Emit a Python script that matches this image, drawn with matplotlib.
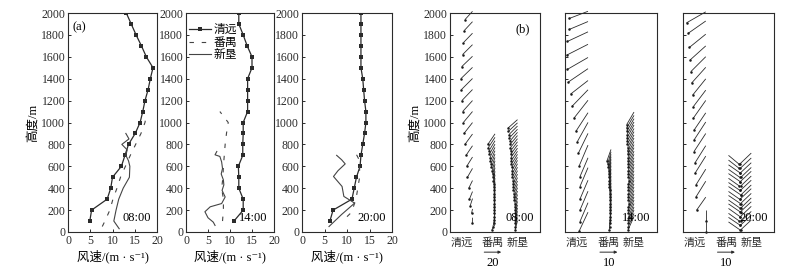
import numpy as np
import matplotlib
matplotlib.use('Agg')
import matplotlib.pyplot as plt
from matplotlib.collections import LineCollection
from matplotlib.transforms import blended_transform_factory

plt.rcParams['font.family'] = ['Liberation Serif', 'Noto Sans CJK SC', 'DejaVu Serif']
plt.rcParams['font.size'] = 8.5
plt.rcParams['axes.unicode_minus'] = False

stations = ['清远', '番禺', '新垦']
times = ['08:00', '14:00', '20:00']

# ---- (a) wind speed profiles (m/s) ----
qy_h = list(range(100, 2001, 100))
qy08 = [4.9, 5.3, 8.8, 9.6, 10.0, 12.0, 12.8, 13.6, 15.1, 16.2, 16.8, 17.3, 18.0, 18.5, 19.1, 17.6, 16.5, 15.3, 14.2, 13.1]
qy14 = [10.9, 13.0, 13.0, 12.0, 12.0, 11.9, 12.9, 12.9, 13.0, 13.0, 14.0, 14.0, 14.0, 14.0, 15.0, 15.0, 13.9, 13.0, 12.0, 12.0]
qy20 = [6.2, 6.9, 11.1, 11.6, 12.1, 12.9, 13.1, 13.5, 13.9, 14.2, 14.2, 13.9, 13.7, 13.5, 13.1, 13.1, 13.1, 13.1, 13.1, 13.1]

py08_h = [50, 100, 200, 300, 400, 500, 600, 700, 800, 900, 1000, 1050]
py08 = [7.7, 8.3, 9.4, 10.1, 11.0, 11.8, 12.9, 14.0, 15.2, 16.4, 17.3, 17.5]
py14_h = [100, 200, 300, 400, 500, 600, 700, 800, 900, 1000, 1100]
py14 = [8.3, 8.5, 8.5, 8.1, 8.4, 8.5, 8.7, 8.9, 9.2, 9.6, 7.7]
py20_h = [140, 180, 300, 400, 500, 600, 650, 700, 740]
py20 = [10.0, 11.0, 12.0, 12.4, 12.8, 12.8, 12.8, 12.2, 11.5]

xk08_h = [30, 100, 200, 300, 400, 500, 600, 650, 700, 750, 800, 850, 900]
xk08 = [11.5, 10.3, 10.8, 11.4, 12.4, 13.8, 13.9, 13.6, 13.0, 13.3, 12.1, 13.7, 13.0]
xk14_h = [60, 90, 130, 185, 230, 260, 320, 380, 430, 475, 530, 580, 640, 690, 705, 735]
xk14 = [6.6, 6.2, 5.0, 4.3, 5.5, 8.1, 8.9, 8.2, 8.6, 8.5, 8.0, 8.3, 8.1, 7.7, 6.6, 7.0]
xk20_h = [50, 160, 264, 325, 416, 507, 560, 622, 660, 700]
xk20 = [6.0, 8.8, 11.7, 9.3, 8.9, 7.0, 8.0, 9.6, 8.8, 7.7]

# ---- (b) wind vectors: u, v components (m/s) ----
b08_qy_h = [80, 170, 240, 300, 400, 500, 600, 700, 800, 900, 1000, 1100, 1200, 1300, 1400, 1510, 1620, 1730, 1840, 1940]
b08_qy_u = [0.2, 1.1, 2.7, 3.6, 4.4, 6.0, 6.8, 7.6, 8.9, 10.0, 10.8, 11.6, 12.5, 13.1, 13.7, 12.7, 11.7, 10.6, 9.7, 8.8]
b08_qy_v = [6.5, 5.2, 8.4, 8.9, 9.0, 10.4, 10.9, 11.3, 12.2, 12.8, 12.9, 12.9, 13.0, 13.1, 13.3, 12.2, 11.7, 11.0, 10.4, 9.7]
b08_py_h = list(range(20, 801, 30))
b08_py_u = [3.7, 2.6, 1.6, 1.0, 0.9, 0.9, 0.9, 1.0, 1.0, 1.0, 1.1, 1.1, 1.1, 1.3, 1.5,
            1.9, 2.4, 2.9, 3.5, 4.2, 4.8, 5.3, 6.0, 6.6, 7.2, 7.9, 8.4]
b08_py_v = [6.4, 7.0, 7.6, 7.9, 8.3, 8.7, 9.0, 9.2, 9.5, 9.8, 10.0, 10.2, 10.3, 10.5, 10.7,
            10.9, 11.2, 11.4, 11.6, 11.7, 11.8, 11.9, 11.9, 11.9, 12.0, 12.2, 12.4]
b08_xk_h = list(range(20, 951, 30))
b08_xk_u = [2.7, 2.7, 2.7, 2.7, 2.7, 2.7, 2.9, 3.1, 3.4, 3.8, 4.2, 4.5, 4.8, 5.1, 5.4, 5.7,
            6.0, 6.3, 6.6, 6.9, 7.2, 7.5, 7.8, 8.0, 8.2, 8.4, 8.6, 9.0, 9.5, 10.0, 10.6, 11.0]
b08_xk_v = [10.7, 10.6, 10.4, 10.3, 10.2, 10.1, 10.2, 10.4, 10.6, 10.8, 10.9, 11.0, 11.1, 11.2, 11.4, 11.6,
            11.8, 12.0, 12.1, 11.8, 11.5, 11.2, 11.0, 10.9, 10.8, 10.6, 10.4, 10.3, 10.1, 10.0, 9.9, 9.8]

b14_qy_h = [10, 95, 200, 300, 415, 505, 605, 720, 825, 920, 1040, 1150, 1260, 1370, 1485, 1615, 1740, 1850, 1950]
b14_qy_u = [5.0, 4.6, 4.6, 4.6, 4.6, 4.6, 5.0, 5.5, 6.1, 6.9, 8.0, 9.0, 9.9, 11.2, 11.8, 12.2, 11.8, 10.7, 10.7]
b14_qy_v = [10.7, 10.8, 10.8, 10.8, 10.8, 10.8, 11.8, 11.3, 11.0, 10.6, 10.2, 9.3, 7.7, 7.6, 6.8, 6.2, 5.5, 4.5, 4.1]
b14_py_h = list(range(20, 651, 30))
b14_py_u = [1.0, 0.8, 0.6, 0.5, 0.5, 0.5, 0.5, 0.5, 0.5, 0.5, 0.6,
            0.7, 0.8, 0.9, 1.0, 1.0, 1.1, 1.2, 1.4, 1.6, 1.9, 2.3]
b14_py_v = [7.5, 7.8, 8.0, 8.2, 8.3, 8.3, 8.3, 8.2, 8.1, 8.0, 8.0,
            8.1, 8.2, 8.3, 8.4, 8.5, 8.5, 8.4, 8.0, 7.5, 7.0, 6.5]
b14_xk_h = list(range(20, 981, 30))
b14_xk_u = [3.4, 3.3, 3.2, 3.2, 3.1, 3.2, 3.3, 3.2, 3.1, 3.2, 3.3, 3.2, 3.2, 3.3, 3.2, 3.1, 3.2,
            3.3, 3.4, 3.3, 3.4, 3.5, 3.5, 3.6, 3.7, 3.7, 3.8, 3.9, 4.0, 4.0, 4.1, 4.2, 4.2]
b14_xk_v = [7.6, 7.5, 7.6, 7.4, 7.5, 7.6, 7.5, 7.4, 7.5, 7.6, 7.5, 7.6, 7.5, 7.4, 7.5, 7.6, 7.5,
            7.5, 7.4, 7.5, 7.4, 7.5, 7.4, 7.3, 7.4, 7.3, 7.3, 7.2, 7.3, 7.2, 7.2, 7.2, 7.2]

b20_qy_h = [0, 100, 200, 320, 430, 535, 630, 735, 840, 930, 1040, 1145, 1250, 1360, 1465, 1570, 1685, 1815, 1910]
b20_qy_u = [0.0, 0.0, 5.2, 5.6, 5.6, 6.2, 6.2, 6.7, 6.7, 6.7, 7.1, 7.1, 7.5, 8.1, 8.5, 9.0, 9.4, 10.0, 11.0]
b20_qy_v = [6.0, 6.2, 7.4, 9.0, 9.0, 9.9, 9.9, 10.3, 10.3, 9.9, 10.1, 9.4, 9.3, 9.0, 8.5, 8.1, 7.6, 7.0, 6.3]
b20_py_h = list(range(20, 621, 40))
b20_py_u = [-6.5, -6.8, -6.2, -6.6, -7.0, -6.4, -6.8, -6.3, -6.9, -6.5, -6.2, -6.7, -6.4, -6.6, -6.2, -6.0]
b20_py_v = [4.5, 4.6, 4.4, 4.7, 4.8, 4.5, 4.6, 4.4, 4.7, 4.5, 4.4, 4.6, 4.5, 4.6, 4.8, 5.0]
b20_xk_h = list(range(20, 621, 40))
b20_xk_u = [6.0, 6.3, 5.8, 6.2, 6.5, 5.9, 6.1, 6.4, 5.8, 6.2, 6.0, 6.3, 5.9, 6.2, 6.4, 6.6]
b20_xk_v = [5.6, 5.8, 5.5, 5.9, 6.0, 5.7, 5.8, 6.0, 5.6, 5.8, 5.7, 5.9, 5.6, 5.8, 6.0, 6.3]

ref_speed = [20, 10, 10]        # reference arrow per panel (m/s)
px_per_ms = [0.85, 1.75, 1.75]  # drawn length of 1 m/s in pixels

a_qy = [qy08, qy14, qy20]
a_py = [(py08_h, py08), (py14_h, py14), (py20_h, py20)]
a_xk = [(xk08_h, xk08), (xk14_h, xk14), (xk20_h, xk20)]
b_sets = [
    [(b08_qy_h, b08_qy_u, b08_qy_v), (b08_py_h, b08_py_u, b08_py_v), (b08_xk_h, b08_xk_u, b08_xk_v)],
    [(b14_qy_h, b14_qy_u, b14_qy_v), (b14_py_h, b14_py_u, b14_py_v), (b14_xk_h, b14_xk_u, b14_xk_v)],
    [(b20_qy_h, b20_qy_u, b20_qy_v), (b20_py_h, b20_py_u, b20_py_v), (b20_xk_h, b20_xk_u, b20_xk_v)],
]

W, H = 788, 279
fig = plt.figure(figsize=(W / 100, H / 100), dpi=100)
ink = '#2b2b2b'


def box(l, r, top=13, bottom=232):
    return [l / W, 1 - bottom / H, (r - l) / W, (bottom - top) / H]


def style(ax):
    for s in ax.spines.values():
        s.set_linewidth(0.8)
        s.set_color(ink)
    ax.tick_params(direction='in', length=2.5, width=0.7, colors=ink, pad=2)


a_left = [(68, 157), (186, 274), (302, 392)]
for i, (l, r) in enumerate(a_left):
    ax = fig.add_axes(box(l, r))
    style(ax)
    ax.plot(a_qy[i], qy_h, '-s', color=ink, lw=0.9, ms=2.6, mew=0, label=stations[0])
    ax.plot(a_py[i][1], a_py[i][0], color='#444444', lw=0.8, dashes=(4, 7), label=stations[1])
    ax.plot(a_xk[i][1], a_xk[i][0], color='#444444', lw=0.8, label=stations[2])
    ax.set_xlim(0, 20)
    ax.set_ylim(0, 2000)
    ax.set_xticks([0, 5, 10, 15, 20])
    ax.set_yticks(range(0, 2001, 200))
    ax.set_xlabel('风速/(m · s⁻¹)', fontsize=9, labelpad=2)
    ax.text(0.93, 0.035, times[i], transform=ax.transAxes, ha='right', va='bottom', fontsize=9)
    if i == 0:
        ax.set_ylabel('高度/m', fontsize=9, labelpad=2)
        ax.text(0.05, 0.96, '(a)', transform=ax.transAxes, ha='left', va='top', fontsize=9)
    if i == 1:
        ax.legend(loc='upper left', bbox_to_anchor=(-0.02, 0.97), frameon=False,
                  handlelength=1.9, handletextpad=0.2, labelspacing=0.05,
                  borderaxespad=0, fontsize=8.5)

b_left = [(450, 540), (565, 657), (683, 774)]
label_pos = [0.5, 1.9, 3.0]
for i, (l, r) in enumerate(b_left):
    ax = fig.add_axes(box(l, r))
    style(ax)
    ax.set_xlim(0, 4)
    ax.set_ylim(0, 2000)
    ax.set_yticks(range(0, 2001, 200))
    ax.set_xticks(label_pos, stations, fontsize=8)
    ax.tick_params(axis='x', length=0, pad=4)
    if i == 0:
        ax.set_ylabel('高度/m', fontsize=9, labelpad=2)
        ax.text(0.89, 0.955, '(b)', transform=ax.transAxes, ha='right', va='top', fontsize=9)
    else:
        ax.set_yticklabels([])
    ax.text(0.93, 0.035, times[i], transform=ax.transAxes, ha='right', va='bottom', fontsize=9)

    pos = ax.get_position()
    w_px = pos.width * W
    h_px = pos.height * H
    kx = px_per_ms[i] * 4 / w_px
    ky = px_per_ms[i] * 2000 / h_px
    for j, (hh, uu, vv) in enumerate(b_sets[i]):
        st = j + 1
        hh = np.array(hh, float)
        x0 = st - np.array(uu) * kx
        y1 = hh + np.array(vv) * ky
        segs = [[(a, b), (st, c)] for a, b, c in zip(x0, hh, y1)]
        ax.add_collection(LineCollection(segs, colors=ink, linewidths=0.6, clip_on=False))
        ax.plot(x0, hh, 'o', color='#1a1a1a', ms=1.8, mew=0, clip_on=False)

    # scale arrow
    half = ref_speed[i] * kx / 2
    tr = blended_transform_factory(ax.transData, ax.transAxes)
    ax.annotate('', xy=(1.9 + half, -0.092), xytext=(1.9 - half, -0.092),
                xycoords=tr, textcoords=tr, annotation_clip=False,
                arrowprops=dict(arrowstyle='-|>', lw=0.7, color=ink,
                                mutation_scale=4, shrinkA=0, shrinkB=0))
    ax.text(1.9, -0.115, str(ref_speed[i]), transform=tr, ha='center', va='top', fontsize=9)

fig.savefig('out.png', dpi=100)
